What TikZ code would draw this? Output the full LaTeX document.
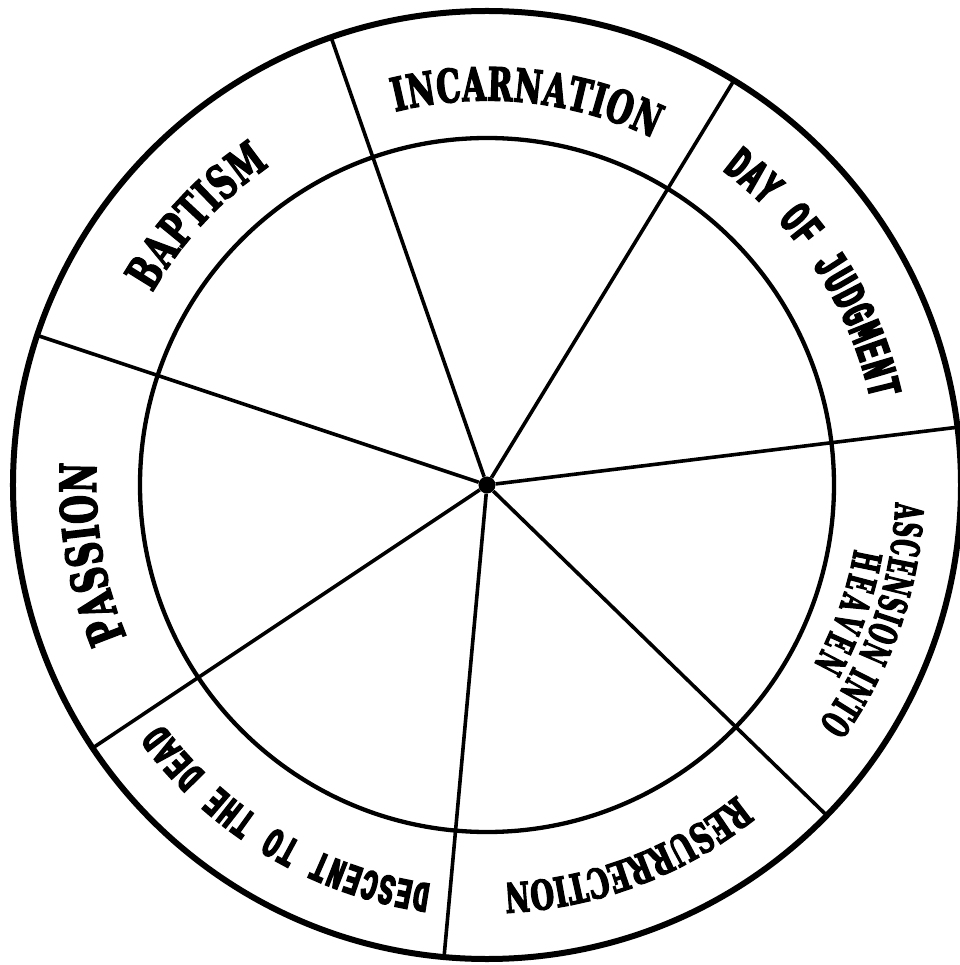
\documentclass[tikz,border=0pt]{standalone}
\usepackage{fontspec}
\usepackage{tikz}
\usetikzlibrary{decorations.text}
\newfontfamily\slabfont[FakeStretch=0.66,FakeBold=3]{DejaVu Serif Bold}
\newfontfamily\narrowslab[FakeStretch=0.54,FakeBold=3]{DejaVu Serif Bold}
\newfontfamily\typefont[FakeStretch=0.60,FakeBold=3.5]{Liberation Mono Bold}
\tikzset{
  rim/.style     = {line width=6bp},
  ring/.style    = {line width=4.3bp},
  spoke/.style   = {line width=3.6bp},
  hub/.style     = {circle, fill=black, inner sep=0pt, minimum size=17bp},
  rimtext/.style = {decorate, decoration={text along path, text align=fit to path, text={#1}}},
}
\begin{document}
\begin{tikzpicture}
  \useasboundingbox (-487bp,-480bp) rectangle (473bp,485bp);
  \node[hub] (hub) at (0,0) {};
  % spoke ends on the rim
  \coordinate (s1) at (109.2:474bp);
  \coordinate (s2) at (58.6:474bp);
  \coordinate (s3) at (7.0:474bp);
  \coordinate (s4) at (-44.2:474bp);
  \coordinate (s5) at (-95.2:474bp);
  \coordinate (s6) at (-146.3:474bp);
  \coordinate (s7) at (161.6:474bp);
  \draw[rim] (hub.center) circle[radius=474bp];
  \draw[ring] (hub.center) circle[radius=347bp];
  \draw[spoke] (hub) -- (s1);
  \draw[spoke] (hub) -- (s2);
  \draw[spoke] (hub) -- (s3);
  \draw[spoke] (hub) -- (s4);
  \draw[spoke] (hub) -- (s5);
  \draw[spoke] (hub) -- (s6);
  \draw[spoke] (hub) -- (s7);
  % labels between the circles
  \path[rimtext={|\slabfont\fontsize{46}{46}\selectfont|INCARNATION}]
    (hub.center) ++(103.8:384.5bp) arc[start angle=103.8, end angle=64.4, radius=384.5bp];
  \path[rimtext={|\typefont\fontsize{48}{48}\selectfont|DAY OF JUDGMENT}]
    (hub.center) ++(53.2:393bp) arc[start angle=53.2, end angle=12.6, radius=393bp];
  \path[rimtext={|\narrowslab\fontsize{39}{39}\selectfont|ASCENSION INTO}]
    (hub.center) ++(-2.5:409bp) arc[start angle=-2.5, end angle=-35.8, radius=409bp];
  \path[rimtext={|\narrowslab\fontsize{39}{39}\selectfont|HEAVEN}]
    (hub.center) ++(-9.9:373bp) arc[start angle=-9.9, end angle=-28.9, radius=373bp];
  \path[rimtext={|\slabfont\fontsize{41}{41}\selectfont|RESURRECTION}]
    (hub.center) ++(-51.1:398.5bp) arc[start angle=-51.1, end angle=-87.2, radius=398.5bp];
  \path[rimtext={|\typefont\fontsize{43}{43}\selectfont|DESCENT TO THE DEAD}]
    (hub.center) ++(-98.0:403bp) arc[start angle=-98.0, end angle=-143.7, radius=403bp];
  \path[rimtext={|\slabfont\fontsize{50}{50}\selectfont|PASSION}]
    (hub.center) ++(202.8:391bp) arc[start angle=202.8, end angle=176.8, radius=391bp];
  \path[rimtext={|\slabfont\fontsize{47}{47}\selectfont|BAPTISM}]
    (hub.center) ++(150.1:386bp) arc[start angle=150.1, end angle=124.3, radius=386bp];
\end{tikzpicture}
\end{document}
